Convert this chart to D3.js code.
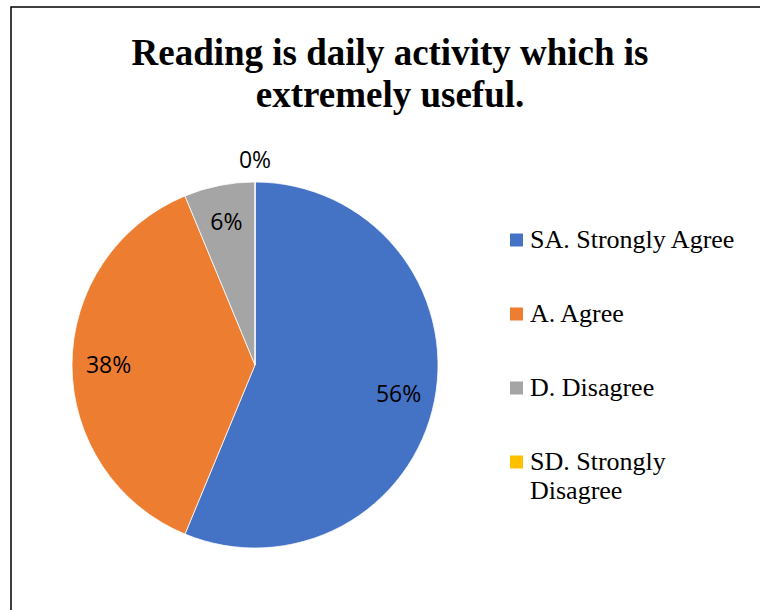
<!DOCTYPE html>
<html>
<head>
<meta charset="utf-8">
<script src="https://d3js.org/d3.v7.min.js"></script>
<style>
    body { margin: 0; background: #fff; }
</style>
</head>
<body>
<div class="chart"></div>
<script>
// answers counted per option (9/16, 6/16, 1/16, 0)
var categories = ["SA. Strongly Agree", "A. Agree", "D. Disagree", "SD. Strongly Disagree"];
var counts = [9, 6, 1, 0];
var colors = ["#4472C4", "#ED7D31", "#A5A5A5", "#FFC000"];
var titleLines = ["Reading is daily activity which is", "extremely useful."];
var legendLines = [["SA. Strongly Agree"], ["A. Agree"], ["D. Disagree"], ["SD. Strongly", "Disagree"]];

var w = 760, h = 610;
var cx = 255, cy = 365, r = 183;

var svg = d3.select("div.chart").append("svg")
    .attr("width", w)
    .attr("height", h);

svg.append("rect")
    .attr("x", 11).attr("y", 7)
    .attr("width", w).attr("height", h)
    .attr("fill", "#fff")
    .attr("stroke", "#000")
    .attr("stroke-width", 1.5);

// title
svg.append("g").selectAll("text")
    .data(titleLines)
    .enter().append("text")
    .attr("x", 390)
    .attr("y", function(d, i) { return 65 + i * 42; })
    .attr("text-anchor", "middle")
    .attr("font-family", "Liberation Serif, 'Times New Roman', serif")
    .attr("font-weight", "bold")
    .attr("font-size", 37)
    .attr("fill", "#000")
    .text(function(d) { return d; });

var total = d3.sum(counts);
var pie = d3.pie().sort(null).value(function(d) { return d; });
var arcs = pie(counts);
var arc = d3.arc().innerRadius(0).outerRadius(r);
var labelArc = d3.arc().innerRadius(r * 0.8).outerRadius(r * 0.8);
var outArc = d3.arc().innerRadius(r + 22).outerRadius(r + 22);

var g = svg.append("g").attr("transform", "translate(" + cx + "," + cy + ")");

g.selectAll("path")
    .data(arcs)
    .enter().append("path")
    .attr("d", arc)
    .attr("fill", function(d, i) { return colors[i]; })
    .attr("stroke", "#fff")
    .attr("stroke-width", 0.75);

g.selectAll("text")
    .data(arcs)
    .enter().append("text")
    .attr("transform", function(d) {
        var p = d.value > 0 ? labelArc.centroid(d) : outArc.centroid(d);
        return "translate(" + p[0] + "," + p[1] + ")";
    })
    .attr("text-anchor", "middle")
    .attr("dy", "0.36em")
    .attr("font-family", "'Open Sans', sans-serif")
    .attr("font-size", 23)
    .attr("fill", "#000")
    .text(function(d) { return Math.round(d.value / total * 100) + "%"; });

// legend
var legendY = d3.scalePoint().domain(categories).range([240, 462]);

var leg = svg.append("g").selectAll("g")
    .data(categories)
    .enter().append("g")
    .attr("transform", function(d) { return "translate(510," + legendY(d) + ")"; });

leg.append("rect")
    .attr("x", 0).attr("y", -6.5)
    .attr("width", 13).attr("height", 13)
    .attr("fill", function(d, i) { return colors[i]; });

leg.append("text")
    .attr("x", 20)
    .attr("y", 8)
    .attr("font-family", "Liberation Serif, 'Times New Roman', serif")
    .attr("font-size", 26)
    .attr("fill", "#000")
    .selectAll("tspan")
    .data(function(d, i) { return legendLines[i]; })
    .enter().append("tspan")
    .attr("x", 20)
    .attr("dy", function(d, i) { return i == 0 ? 0 : 29; })
    .text(function(d) { return d; });
</script>
</body>
</html>
